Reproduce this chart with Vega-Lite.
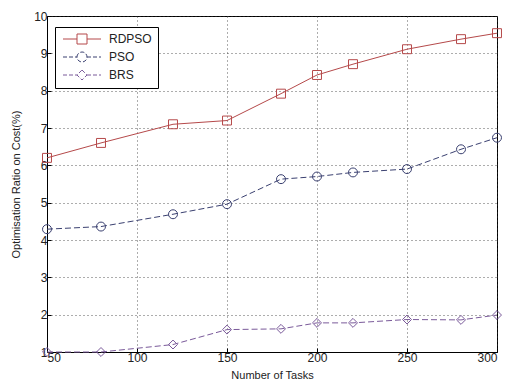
{
  "$schema": "https://vega.github.io/schema/vega-lite/v6.json",
  "width": 450,
  "height": 336,
  "autosize": {"type": "none"},
  "padding": {"left": 47, "top": 16, "right": 9, "bottom": 36},
  "background": "white",
  "config": {
    "font": "Liberation Sans",
    "view": {"stroke": "#000", "strokeWidth": 1},
    "axis": {
      "domainColor": "#000",
      "tickColor": "#000",
      "labelColor": "#222",
      "titleColor": "#222",
      "labelFont": "Liberation Sans",
      "titleFont": "Liberation Sans",
      "titleFontWeight": "normal",
      "labelFontSize": 12,
      "titleFontSize": 11,
      "gridColor": "#333",
      "gridDash": [1, 3],
      "gridOpacity": 0.8,
      "tickSize": -4
    }
  },
  "data": {
    "values": [
      {"tasks": 50, "value": 6.2, "series": "RDPSO"},
      {"tasks": 80, "value": 6.6, "series": "RDPSO"},
      {"tasks": 120, "value": 7.1, "series": "RDPSO"},
      {"tasks": 150, "value": 7.2, "series": "RDPSO"},
      {"tasks": 180, "value": 7.92, "series": "RDPSO"},
      {"tasks": 200, "value": 8.42, "series": "RDPSO"},
      {"tasks": 220, "value": 8.71, "series": "RDPSO"},
      {"tasks": 250, "value": 9.11, "series": "RDPSO"},
      {"tasks": 280, "value": 9.38, "series": "RDPSO"},
      {"tasks": 300, "value": 9.54, "series": "RDPSO"},
      {"tasks": 50, "value": 4.29, "series": "PSO"},
      {"tasks": 80, "value": 4.36, "series": "PSO"},
      {"tasks": 120, "value": 4.69, "series": "PSO"},
      {"tasks": 150, "value": 4.96, "series": "PSO"},
      {"tasks": 180, "value": 5.63, "series": "PSO"},
      {"tasks": 200, "value": 5.7, "series": "PSO"},
      {"tasks": 220, "value": 5.81, "series": "PSO"},
      {"tasks": 250, "value": 5.9, "series": "PSO"},
      {"tasks": 280, "value": 6.43, "series": "PSO"},
      {"tasks": 300, "value": 6.74, "series": "PSO"},
      {"tasks": 50, "value": 1.0, "series": "BRS"},
      {"tasks": 80, "value": 1.0, "series": "BRS"},
      {"tasks": 120, "value": 1.2, "series": "BRS"},
      {"tasks": 150, "value": 1.6, "series": "BRS"},
      {"tasks": 180, "value": 1.62, "series": "BRS"},
      {"tasks": 200, "value": 1.78, "series": "BRS"},
      {"tasks": 220, "value": 1.78, "series": "BRS"},
      {"tasks": 250, "value": 1.87, "series": "BRS"},
      {"tasks": 280, "value": 1.86, "series": "BRS"},
      {"tasks": 300, "value": 1.99, "series": "BRS"}
    ]
  },
  "encoding": {
    "x": {
      "field": "tasks", "type": "quantitative",
      "scale": {"domain": [50, 300], "nice": false},
      "axis": {"values": [50, 100, 150, 200, 250, 300], "title": "Number of Tasks", "titlePadding": 6, "labelPadding": 4}
    },
    "y": {
      "field": "value", "type": "quantitative",
      "scale": {"domain": [1, 10], "nice": false},
      "axis": {"values": [1, 2, 3, 4, 5, 6, 7, 8, 9, 10], "title": "Optimisation Ratio on Cost(%)", "titlePadding": 12, "labelPadding": 4}
    }
  },
  "layer": [
    {
      "transform": [{"filter": "datum.series === 'RDPSO'"}],
      "mark": {"type": "line", "strokeWidth": 1},
      "encoding": {
        "color": {
          "field": "series", "type": "nominal",
          "scale": {"domain": ["RDPSO", "PSO", "BRS"], "range": ["#b5494a", "#3a4070", "#7a5a9a"]},
          "legend": {
            "title": null,
            "orient": "none",
            "legendX": 8,
            "legendY": 11,
            "padding": 6,
            "strokeColor": "#000",
            "fillColor": "white",
            "labelFontSize": 12,
            "labelColor": "#222",
            "symbolSize": 100,
            "symbolStrokeWidth": 1,
            "symbolFillColor": "transparent",
            "rowPadding": 4,
            "labelOffset": 36,
            "symbolType": {"expr": "datum.value === 'RDPSO' ? 'M-0.8,0H2M4,0H6.8M2,-1H4V1H2Z' : datum.value === 'PSO' ? 'M-0.8,0H2M4,0H6.8M2,0A1,1,0,1,1,4,0A1,1,0,1,1,2,0Z' : 'M-0.8,0H2M4,0H6.8M3,-1L4,0L3,1L2,0Z'"},
            "symbolDash": {"expr": "datum.value === 'RDPSO' ? [1,0] : [4,2]"}
          }
        }
      }
    },
    {
      "transform": [{"filter": "datum.series !== 'RDPSO'"}],
      "mark": {"type": "line", "strokeWidth": 1, "strokeDash": [6, 3]},
      "encoding": {
        "color": {"field": "series", "type": "nominal", "legend": null}
      }
    },
    {
      "transform": [{"filter": "datum.series === 'RDPSO'"}],
      "mark": {"type": "point", "shape": "square", "filled": false, "size": 80, "strokeWidth": 1, "opacity": 1},
      "encoding": {
        "color": {"field": "series", "type": "nominal", "legend": null}
      }
    },
    {
      "transform": [{"filter": "datum.series === 'PSO'"}],
      "mark": {"type": "point", "shape": "circle", "filled": false, "size": 80, "strokeWidth": 1, "opacity": 1},
      "encoding": {
        "color": {"field": "series", "type": "nominal", "legend": null}
      }
    },
    {
      "transform": [{"filter": "datum.series === 'BRS'"}],
      "mark": {"type": "point", "shape": "diamond", "filled": false, "size": 80, "strokeWidth": 1, "opacity": 1},
      "encoding": {
        "color": {"field": "series", "type": "nominal", "legend": null}
      }
    }
  ]
}
